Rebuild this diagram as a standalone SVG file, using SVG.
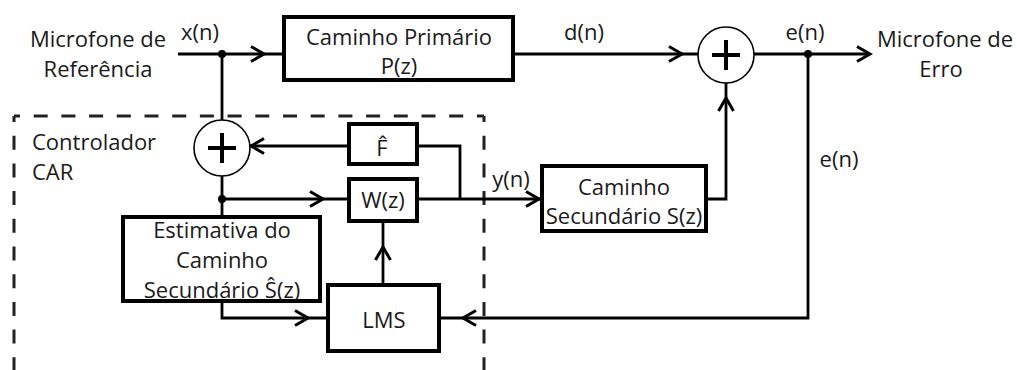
<svg xmlns="http://www.w3.org/2000/svg" xmlns:xlink="http://www.w3.org/1999/xlink" width="1017" height="370" viewBox="0 0 1017 370">
  <style>
    .box { fill: #fff; stroke: #000; stroke-width: 4; }
    .sum { fill: #fff; stroke: #000; stroke-width: 1.6; }
    .plus { stroke: #000; stroke-width: 4; fill: none; }
    .wire { stroke: #000; stroke-width: 2.8; fill: none; }
    .dash { stroke: #222; stroke-width: 3; fill: none; stroke-dasharray: 14 13.7; stroke-dashoffset: 8; }
    .lbl { font-family: "Open Sans", "Noto Sans", sans-serif; font-size: 22px; fill: #1a1a1a; }
    .mid { text-anchor: middle; }
  </style>
  <defs>
    <path id="chev" d="M-13,-7.5 L0,0 L-13,7.5" fill="none" stroke="#000" stroke-width="3" stroke-linejoin="miter"/>
    <circle id="dot" r="4" fill="#000"/>
  </defs>

  <rect width="1017" height="370" fill="#fff"/>

  <!-- controller boundary (open at the bottom) -->
  <g id="controller-boundary">
    <path class="dash" d="M14,116 H484"/>
    <path class="dash" d="M14,116 V370"/>
    <path class="dash" d="M484,116 V370"/>
    <text class="lbl" x="32" y="150">Controlador</text>
    <text class="lbl" x="32" y="180">CAR</text>
  </g>

  <!-- connectors -->
  <g id="connectors">
    <path class="wire" d="M178,54 H282"/>
    <path class="wire" d="M515,54 H698"/>
    <path class="wire" d="M754,54 H870"/>
    <path class="wire" d="M222,54 V120"/>
    <path class="wire" d="M222,176 V215"/>
    <path class="wire" d="M347,146 H250"/>
    <path class="wire" d="M419,146 H460 V199"/>
    <path class="wire" d="M222,199 H347"/>
    <path class="wire" d="M419,199 H540"/>
    <path class="wire" d="M708,199 H726 V82"/>
    <path class="wire" d="M383,283 V223"/>
    <path class="wire" d="M222,303 V318 H326"/>
    <path class="wire" d="M808,54 V318 H441"/>

    <use xlink:href="#chev" transform="translate(264,54)"/>
    <use xlink:href="#chev" transform="translate(682,54)"/>
    <use xlink:href="#chev" transform="translate(870,54)"/>
    <use xlink:href="#chev" transform="translate(726,98) rotate(-90)"/>
    <use xlink:href="#chev" transform="translate(251,146) rotate(180)"/>
    <use xlink:href="#chev" transform="translate(323,199)"/>
    <use xlink:href="#chev" transform="translate(539,199)"/>
    <use xlink:href="#chev" transform="translate(383,247) rotate(-90)"/>
    <use xlink:href="#chev" transform="translate(308,318)"/>
    <use xlink:href="#chev" transform="translate(463,318) rotate(180)"/>

    <use xlink:href="#dot" x="222" y="54"/>
    <use xlink:href="#dot" x="222" y="199"/>
    <use xlink:href="#dot" x="808" y="54"/>

    <text class="lbl mid" x="200" y="40">x(n)</text>
    <text class="lbl mid" x="584" y="40">d(n)</text>
    <text class="lbl mid" x="805" y="40">e(n)</text>
    <text class="lbl mid" x="839" y="167">e(n)</text>
    <text class="lbl mid" x="511" y="187">y(n)</text>
  </g>

  <!-- signal endpoints -->
  <g id="ref-mic">
    <text class="lbl mid" x="98" y="47">Microfone de</text>
    <text class="lbl mid" x="98" y="77">Referência</text>
  </g>
  <g id="err-mic">
    <text class="lbl mid" x="945" y="47">Microfone de</text>
    <text class="lbl mid" x="941" y="77">Erro</text>
  </g>

  <!-- blocks -->
  <g id="primary-path">
    <rect class="box" x="284" y="17" width="229" height="63"/>
    <text class="lbl mid" x="399" y="45">Caminho Primário</text>
    <text class="lbl mid" x="399" y="74">P(z)</text>
  </g>

  <g id="sum-error">
    <circle class="sum" cx="726" cy="55" r="28"/>
    <path class="plus" d="M712,55 H740 M726,40 V70"/>
  </g>

  <g id="sum-input">
    <circle class="sum" cx="222" cy="148" r="28"/>
    <path class="plus" d="M208,148 H236 M222,133 V163"/>
  </g>

  <g id="feedback-f">
    <rect class="box" x="349" y="124" width="68" height="40"/>
    <text class="lbl mid" x="382" y="156">F̂</text>
  </g>

  <g id="filter-w">
    <rect class="box" x="349" y="179" width="68" height="42"/>
    <text class="lbl mid" x="383" y="208">W(z)</text>
  </g>

  <g id="secondary-path">
    <rect class="box" x="542" y="166" width="164" height="65"/>
    <text class="lbl mid" x="624" y="195">Caminho</text>
    <text class="lbl mid" x="624" y="224">Secundário S(z)</text>
  </g>

  <g id="secondary-estimate">
    <rect class="box" x="123" y="217" width="197" height="84"/>
    <text class="lbl mid" x="222" y="238">Estimativa do</text>
    <text class="lbl mid" x="222" y="268">Caminho</text>
    <text class="lbl mid" x="222" y="298">Secundário Ŝ(z)</text>
  </g>

  <g id="lms">
    <rect class="box" x="328" y="285" width="111" height="66"/>
    <text class="lbl mid" x="384" y="328">LMS</text>
  </g>
</svg>
